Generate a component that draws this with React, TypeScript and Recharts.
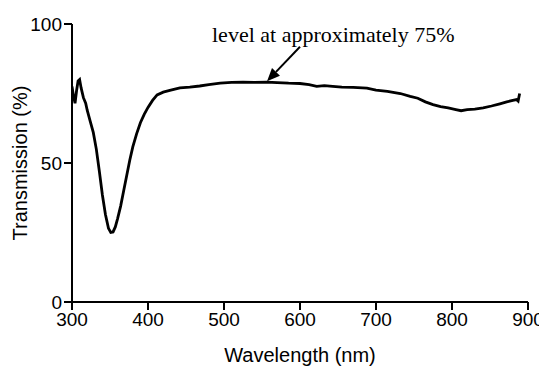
import React from 'react';
import { LineChart, Line, XAxis, YAxis, ReferenceLine } from 'recharts';

const wavelength = [
  300, 302, 304, 306, 308, 310, 312, 315, 318, 320, 324, 328, 332, 336, 340, 344, 348, 351, 354, 357,
  360, 364, 368, 372, 376, 380, 385, 390, 395, 400, 406, 412, 420, 430, 442, 455, 468, 480, 495, 510,
  525, 540, 556, 570, 585, 600, 612, 622, 632, 643, 655, 670, 688, 700, 715, 732, 745, 755, 765, 775,
  785, 795, 805, 812, 820, 830, 841, 852, 863, 872, 880, 885, 887, 889
];
const transmission = [
  77.5, 74, 71.5, 76, 79.5, 80, 77, 73.5, 71.5, 69, 65, 61, 55, 47, 38.5, 31.5, 26.5, 25, 25.2, 27,
  30, 34.5, 40, 45.5, 51, 55.8, 60.5, 64.5, 67.5, 70, 72.5, 74.5, 75.5, 76.2, 77, 77.3, 77.7, 78.2, 78.7, 79,
  79.1, 79, 79.1, 78.9, 78.7, 78.6, 78.2, 77.6, 77.8, 77.6, 77.3, 77.2, 76.9, 76.2, 75.8, 75, 74, 73.3, 72, 71,
  70.3, 69.8, 69.2, 68.8, 69.2, 69.4, 69.8, 70.5, 71.3, 72, 72.5, 72.8, 72.3, 75
];
const xTicks = [300, 400, 500, 600, 700, 800, 900];
const yTicks = [0, 50, 100];
const annotationText = 'level at approximately 75%';
const arrowFrom = { x: 600, y: 91.8 };
const arrowTo = { x: 556.6, y: 79.4 };

const data = wavelength.map((w, i) => ({ w, t: transmission[i] }));

const sans = 'Liberation Sans, Arial, sans-serif';

const Arrow = (props: any) => {
  const { x1, y1, x2, y2 } = props;
  const dx = x2 - x1;
  const dy = y2 - y1;
  const len = Math.sqrt(dx * dx + dy * dy);
  const ux = dx / len;
  const uy = dy / len;
  const head = 13;
  const half = 5.5;
  const bx = x2 - ux * head;
  const by = y2 - uy * head;
  const pts = `${x2},${y2} ${bx - uy * half},${by + ux * half} ${bx + uy * half},${by - ux * half}`;
  return (
    <g>
      <line x1={x1} y1={y1} x2={bx} y2={by} stroke="#000" strokeWidth={2} />
      <polygon points={pts} fill="#000" />
      <text x={x1 - 88} y={y1 - 5} fontFamily="Liberation Serif, Times New Roman, serif" fontSize={22} fill="#000">
        {annotationText}
      </text>
    </g>
  );
};

const YLabel = (props: any) => {
  const { viewBox } = props;
  const cy = viewBox.y + viewBox.height / 2;
  return (
    <text
      x={19}
      y={cy}
      transform={`rotate(-90, 19, ${cy})`}
      textAnchor="middle"
      fontFamily={sans}
      fontSize={20}
      fill="#000"
    >
      Transmission (%)
    </text>
  );
};

export default function App() {
  return (
    <div style={{ width: 539, height: 359, background: '#fff' }}>
      <LineChart width={539} height={359} data={data} margin={{ top: 16, right: 19, left: 0, bottom: 0 }}>
        <XAxis
          dataKey="w"
          type="number"
          domain={[300, 900]}
          ticks={xTicks}
          allowDataOverflow
          height={65}
          tickSize={8}
          tickMargin={3}
          stroke="#000"
          strokeWidth={2}
          tick={{ fill: '#000', fontSize: 19, fontFamily: sans }}
          label={{ value: 'Wavelength (nm)', position: 'insideBottom', offset: 5, fill: '#000', fontSize: 20, fontFamily: sans }}
        />
        <YAxis
          type="number"
          domain={[0, 100]}
          ticks={yTicks}
          width={64}
          tickSize={8}
          tickMargin={2}
          stroke="#000"
          strokeWidth={2}
          tick={{ fill: '#000', fontSize: 19, fontFamily: sans }}
          label={{ content: YLabel }}
        />
        <Line
          dataKey="t"
          type="linear"
          stroke="#000"
          strokeWidth={2.8}
          dot={false}
          isAnimationActive={false}
        />
        <ReferenceLine
          segment={[arrowFrom, arrowTo]}
          ifOverflow="visible"
          shape={Arrow}
        />
      </LineChart>
    </div>
  );
}
